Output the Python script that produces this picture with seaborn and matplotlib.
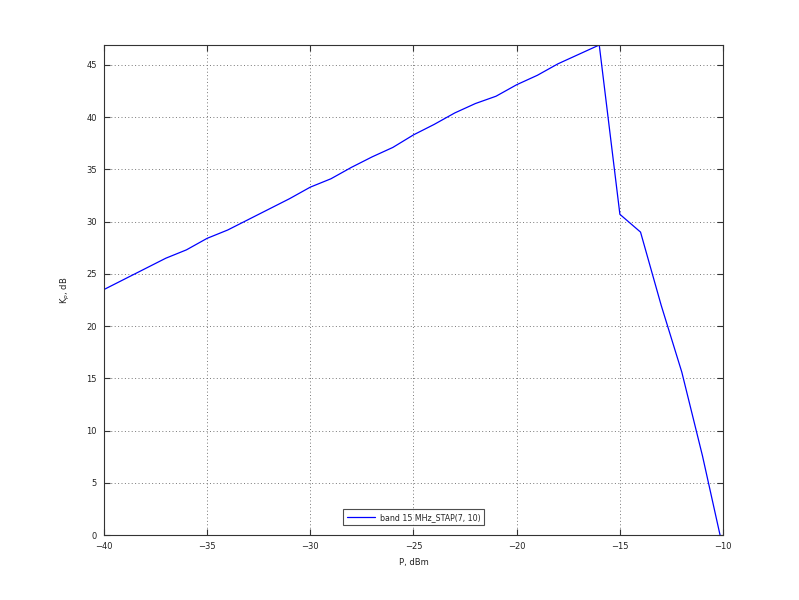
import matplotlib
matplotlib.use("Agg")
import matplotlib.pyplot as plt
import pandas as pd
import seaborn as sns

# Input power, dBm
power = [-40, -39, -38, -37, -36, -35, -34, -33, -32, -31,
         -30, -29, -28, -27, -26, -25, -24, -23, -22, -21,
         -20, -19, -18, -17, -16, -15, -14, -13, -12, -11, -10]
# Gain Kp, dB
gain = [23.5, 24.5, 25.5, 26.5, 27.3, 28.4, 29.2, 30.2, 31.2, 32.2,
        33.3, 34.1, 35.2, 36.2, 37.1, 38.3, 39.3, 40.4, 41.3, 42.0,
        43.1, 44.0, 45.1, 46.0, 46.9, 30.7, 29.0, 22.0, 15.6, 7.6, -1.3]
series_name = "band 15 MHz_STAP(7, 10)"
x_ticks = [-40, -35, -30, -25, -20, -15, -10]
y_ticks = [0, 5, 10, 15, 20, 25, 30, 35, 40, 45]

df = pd.DataFrame({"P": power, "Kp": gain, "series": series_name})

sns.set_style("white")
plt.rcParams["font.family"] = ["DejaVu Sans"]

fig = plt.figure(figsize=(7.99, 6.0), dpi=100)
ax = fig.add_axes([0.13, 0.108, 0.775, 0.817])

sns.lineplot(data=df, x="P", y="Kp", hue="series", palette=["#0000ff"],
             linewidth=0.9, ax=ax, sort=False, estimator=None)

ax.set_xlim(-40, -10)
ax.set_ylim(0, 46.9)
ax.set_xticks(x_ticks)
ax.set_yticks(y_ticks)
ax.grid(True, linestyle=(0, (1, 2.5)), color="#777777", linewidth=0.7)

for s in ax.spines.values():
    s.set_color("#333333")
    s.set_linewidth(0.8)
ax.tick_params(direction="in", length=4, width=0.8, color="#333333",
               labelsize=6, labelcolor="#222222", top=True, right=True,
               left=True, bottom=True, pad=5)

ax.set_xlabel("P, dBm", fontsize=6, color="#222222", labelpad=5)
ax.set_ylabel("K$_p$, dB", fontsize=6, color="#222222", labelpad=10)

leg = ax.legend(loc="lower center", fontsize=5.7, frameon=True, fancybox=False,
                borderpad=0.45, handlelength=3.6, handletextpad=0.6,
                bbox_to_anchor=(0.5, 0.012))
leg.get_frame().set_edgecolor("#222222")
leg.get_frame().set_linewidth(0.8)

fig.savefig("out.png", dpi=100)
